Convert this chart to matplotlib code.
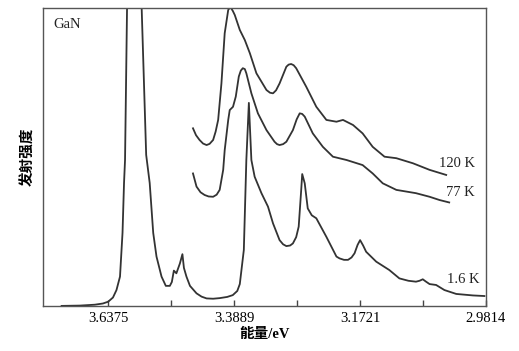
#GaN emission spectra at three temperatures
import matplotlib.pyplot as plt

plt.rcParams['font.family'] = ['Liberation Serif', 'Noto Sans CJK SC']

# x values are wavelength in nm (axis is linear in wavelength, labelled in eV)
wl_16K = [331.6, 335.2, 338.2, 339.8, 340.85, 341.8, 342.5, 343.2, 343.7, 344.0, 344.2, 344.6, 346.0,
          347.5, 348.4, 349.1, 349.8, 350.45, 351.45, 352.3, 353.1, 353.5, 353.9, 354.4,
          355.1, 355.6, 355.9, 356.4, 357.1, 358.4, 359.4, 360.4, 361.7, 363.0, 364.5, 365.6, 366.5, 367.0, 367.8,
          368.3, 368.8, 369.3, 369.95, 371.3, 372.6, 373.6, 374.9, 375.6, 376.25, 377.0, 377.55, 378.2, 378.7,
          379.2, 379.4, 379.9, 380.5, 381.3, 382.2, 384.2, 386.2, 386.8, 387.7, 388.5, 389.2, 389.8, 390.4, 390.9,
          391.5, 392.1, 394.1, 396.7, 398.7, 400.5, 402.0, 402.7, 403.35, 404.0, 404.7, 406.0, 407.65, 410.0, 413.3,
          415.6]
int_16K = [0.2, 0.3, 0.6, 1.0, 1.6, 3.0, 5.5, 10.0, 24.6, 41.3, 49.0, 100.0, 118.0,
           100.0, 50.7, 41.3, 24.6, 16.7, 10.0, 6.9, 6.9, 8.2, 12.0, 11.1,
           14.4, 17.5, 12.9, 10.0, 6.9, 4.4, 3.3, 2.7, 2.6, 2.8, 3.2, 3.8, 5.2, 7.5, 18.9,
           49.0, 68.1, 49.0, 43.4, 37.9, 33.4, 27.8, 22.2, 20.8, 20.2, 20.4, 21.1, 23.2, 26.7,
           39.0, 44.3, 41.2, 32.8, 30.5, 29.5, 23.3, 16.7, 16.1, 15.6, 15.6, 16.4, 17.8, 20.6, 22.2,
           20.4, 18.3, 15.0, 12.2, 9.4, 8.6, 8.3, 8.6, 9.1, 8.3, 7.5, 7.2, 5.5, 4.2, 3.7,
           3.5]

wl_77K = [357.7, 358.4, 359.2, 360.0, 360.8, 361.7, 362.4, 363.0, 363.7, 364.0, 364.7, 365.0, 365.65, 366.2,
          366.8, 367.2, 367.6, 368.0, 368.3, 369.3, 370.6, 372.3, 373.9, 374.4, 374.9, 375.6, 376.25, 377.55,
          378.3, 378.9, 379.4, 379.9, 381.5, 383.5, 385.5, 388.2, 391.4, 393.4, 395.4, 398.1, 402.0, 404.7,
          406.7, 408.6]
int_77K = [44.5, 40.1, 38.2, 37.3, 36.8, 36.7, 37.4, 39.0, 45.7, 52.3, 62.4, 65.7, 66.8, 70.2,
           76.9, 78.9, 79.7, 79.4, 78.0, 71.3, 64.6, 59.0, 55.1, 54.3, 54.0, 54.3, 55.1, 59.0,
           62.6, 64.6, 64.4, 63.5, 57.9, 53.4, 50.1, 49.0, 47.3, 44.5, 41.2, 39.0, 37.9, 36.7,
           35.6, 34.8]

wl_120K = [357.7, 358.3, 359.0, 359.7, 360.4, 361.0, 361.7, 362.2, 362.7, 363.35, 364.0, 364.7, 365.0,
           365.3, 365.6, 366.0, 367.0, 368.0, 369.0, 370.3, 372.3, 373.0, 373.6, 374.2, 374.9, 376.25,
           376.7, 377.2, 377.7, 378.2, 380.2, 382.2, 384.2, 386.2, 387.5, 389.5, 391.4, 393.4, 395.75,
           398.1, 401.4, 404.7, 408.0]
int_120K = [59.6, 57.3, 55.7, 54.5, 54.0, 54.4, 55.7, 58.5, 62.4, 74.6, 91.4, 99.2, 99.9,
            99.7, 98.9, 97.5, 92.5, 89.1, 84.7, 78.0, 72.4, 71.5, 71.3, 72.3, 74.6, 80.2,
            80.9, 81.1, 80.7, 79.7, 73.5, 66.8, 62.4, 61.8, 62.4, 60.7, 57.9, 53.4, 50.1,
            49.6, 47.9, 45.7, 44.0]

tick_pos = [340.89, 365.90, 390.91, 415.91]
tick_labels = ['3.6375', '3.3889', '3.1721', '2.9814']
minor_pos = [353.40, 378.40, 403.40]

fig = plt.figure(figsize=(5.19, 3.51), dpi=100)
ax = fig.add_axes([0.0838, 0.1268, 0.8526, 0.8518])

line_col = '#333333'
ax.plot(wl_16K, int_16K, color=line_col, lw=1.3)
ax.plot(wl_77K, int_77K, color=line_col, lw=1.3)
ax.plot(wl_120K, int_120K, color=line_col, lw=1.3)

ax.set_xlim(328.0, 415.91)
ax.set_ylim(0, 100)
ax.set_xticks(tick_pos)
ax.set_xticklabels(tick_labels, fontsize=10.5)
ax.set_xticks(minor_pos, minor=True)
ax.set_yticks([])
ax.tick_params(axis='x', which='both', direction='in', length=4, width=1, color='#444444', pad=4)
for s in ax.spines.values():
    s.set_color('#555555')
    s.set_linewidth(1.0)

ax.text(0.023, 0.93, 'GaN', transform=ax.transAxes, fontsize=10.5, color='#222222')
ax.text(406.6, 47.7, '120 K', fontsize=10.5, color='#222222', va='center')
ax.text(408.0, 38.0, '77 K', fontsize=10.5, color='#222222', va='center')
ax.text(408.2, 8.9, '1.6 K', fontsize=10.5, color='#222222', va='center')

ax.set_xlabel('能量/eV', fontsize=10.5, fontweight='bold', labelpad=2)
ax.set_ylabel('发射强度', fontsize=10.5, fontweight='bold', labelpad=6)

plt.savefig('out.png', dpi=100)
